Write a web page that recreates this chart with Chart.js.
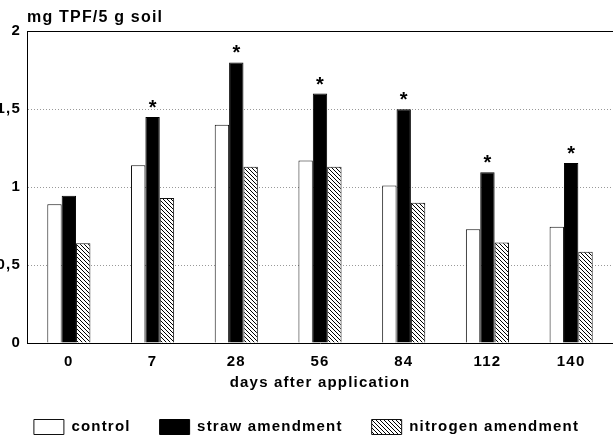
<!DOCTYPE html>
<html>
<head>
<meta charset="utf-8">
<script src="https://cdn.jsdelivr.net/npm/chart.js@4.4.1/dist/chart.umd.min.js"></script>
<style>
  body { margin: 0; background: #fff; }
  canvas { display: block; }
</style>
</head>
<body>
<canvas id="tpfChart" width="613" height="436"></canvas>
<script>
// days after application
var days = ["0", "7", "28", "56", "84", "112", "140"];
// mg TPF / 5 g soil
var control = [0.89, 1.14, 1.40, 1.17, 1.01, 0.73, 0.745];
var straw = [0.945, 1.45, 1.80, 1.60, 1.50, 1.095, 1.155];
var nitrogen = [0.64, 0.93, 1.13, 1.13, 0.90, 0.645, 0.585];
// significance marks over the straw bars
var marks = ["", "*", "*", "*", "*", "*", "*"];
var yTickLabels = ["0", "0,5", "1", "1,5", "2"];

var chartDiv = document.getElementById("tpfChart");
var ctx = chartDiv.getContext("2d");

// diagonal hatch for nitrogen amendment
function makeHatch() {
  var c = document.createElement("canvas");
  c.width = 4; c.height = 4;
  var g = c.getContext("2d");
  g.fillStyle = "#fff";
  g.fillRect(0, 0, 4, 4);
  g.strokeStyle = "#000";
  g.lineWidth = 1;
  g.beginPath();
  g.moveTo(-1, -1); g.lineTo(5, 5);
  g.stroke();
  return ctx.createPattern(c, "repeat");
}

Chart.defaults.font.family = "'Liberation Sans', Arial, sans-serif";
Chart.defaults.font.weight = "bold";
Chart.defaults.font.size = 15;
Chart.defaults.color = "#000";

var spacing = {
  id: "spacing",
  beforeLayout: function (c) { c.ctx.letterSpacing = "1.2px"; },
  beforeDraw: function (c) { c.ctx.letterSpacing = "1.2px"; }
};

var extras = {
  id: "extras",
  afterDatasetsDraw: function (chart) {
    var a = chart.chartArea;
    var g = chart.ctx;
    g.save();
    // top frame line
    g.strokeStyle = "#000";
    g.lineWidth = 1;
    g.beginPath();
    g.moveTo(a.left, Math.round(a.top) + 0.5);
    g.lineTo(a.right, Math.round(a.top) + 0.5);
    g.stroke();
    // asterisks
    g.letterSpacing = "0px";
    g.font = "bold 20px 'Liberation Sans', Arial, sans-serif";
    g.textAlign = "center";
    g.textBaseline = "alphabetic";
    g.fillStyle = "#000";
    var meta = chart.getDatasetMeta(1);
    meta.data.forEach(function (bar, i) {
      if (marks[i]) g.fillText(marks[i], bar.x, bar.y - 3);
    });
    g.restore();
  }
};

var myBarChart = new Chart(ctx, {
  type: "bar",
  data: {
    labels: days,
    datasets: [{
      label: "control",
      data: control,
      backgroundColor: "#fff",
      borderColor: "#111",
      borderWidth: 1
    },
    {
      label: "straw amendment",
      data: straw,
      backgroundColor: "#000",
      borderColor: "#000",
      borderWidth: 1
    },
    {
      label: "nitrogen amendment",
      data: nitrogen,
      backgroundColor: makeHatch(),
      borderColor: "#111",
      borderWidth: 1
    }]
  },
  options: {
    responsive: false,
    animation: false,
    categoryPercentage: 0.515,
    barPercentage: 1,
    layout: { padding: { left: 0, right: 0, top: 0, bottom: -8.5 } },
    plugins: {
      tooltip: { enabled: false },
      title: {
        display: true,
        text: "mg TPF/5 g soil",
        align: "start",
        fullSize: false,
        font: { size: 16, weight: "bold" },
        padding: { top: 8, bottom: 4 }
      },
      legend: {
        position: "bottom",
        labels: {
          boxWidth: 30,
          boxHeight: 15,
          padding: 29,
          font: { size: 15, weight: "bold" }
        }
      }
    },
    scales: {
      x: {
        grid: { display: false, drawTicks: false },
        border: { display: true, color: "#000", width: 1 },
        ticks: { padding: 10 },
        title: {
          display: true,
          text: "days after application",
          font: { size: 15, weight: "bold", lineHeight: 0.3 },
          padding: { top: 0, bottom: 5 }
        }
      },
      y: {
        min: 0,
        max: 2,
        afterFit: function (scale) { scale.width = 27; },
        ticks: {
          stepSize: 0.5,
          padding: 6,
          callback: function (value) { return yTickLabels[Math.round(value * 2)]; }
        },
        grid: {
          drawTicks: false,
          color: function (c) {
            return (c.tick && (c.tick.value === 0 || c.tick.value === 2)) ? "rgba(0,0,0,0)" : "#999";
          }
        },
        border: { display: true, color: "#000", width: 1, dash: [1, 2] }
      }
    }
  },
  plugins: [spacing, extras]
});
</script>
</body>
</html>
